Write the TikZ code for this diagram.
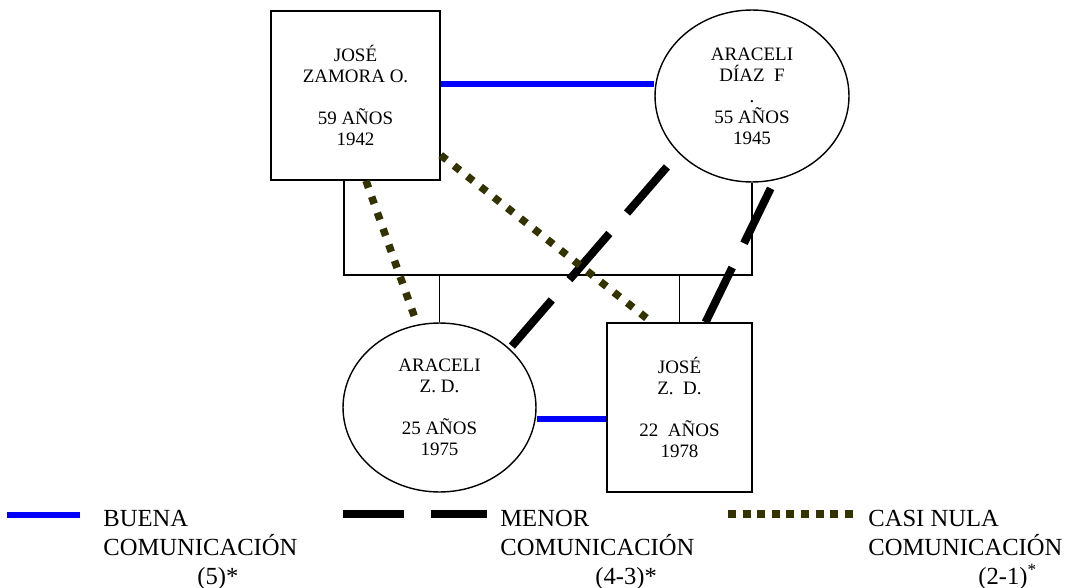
\documentclass[tikz,border=0pt]{standalone}
\usepackage{fontspec}
\setmainfont{Liberation Serif}
\usetikzlibrary{shapes.geometric}
\definecolor{oliva}{RGB}{51,51,0}

\begin{document}
\begin{tikzpicture}[x=0.02cm,y=-0.02cm,
    persona/.style={draw,line width=0.8pt,inner sep=0pt,align=center,font=\fontsize{10.8}{12}\selectfont},
    caja/.style={persona,rectangle,minimum height=3.38cm},
    elipse/.style={persona,ellipse},
    linea/.style={black,line width=0.8pt},
    buena/.style={blue,line width=0.13cm},
    menor/.style={black,line width=0.16cm,dash pattern=on 1.22cm off 0.54cm},
    nula/.style={oliva,line width=0.15cm,dash pattern=on 0.15cm off 0.19cm},
    leyenda/.style={anchor=north west,inner sep=0pt,align=left,font=\fontsize{14}{16.5}\selectfont}]
  \useasboundingbox (0,0) rectangle (1078,588);
  % padres
  \node [caja,minimum width=3.38cm] (jzo) at (355.5,95.5) {JOSÉ\\ZAMORA O.\\[12pt]59 AÑOS\\1942};
  \node [elipse,minimum width=3.88cm,minimum height=3.44cm] (ad) at (752,96) {ARACELI\\DÍAZ\ \ F\\.\\55 AÑOS\\1945};
  % hijos
  \node [elipse,minimum width=3.86cm,minimum height=3.38cm] (az) at (439.5,407.5) {ARACELI\\Z. D.\\[12pt]25 AÑOS\\1975};
  \node [caja,minimum width=2.9cm] (jz) at (679.5,407.5) {JOSÉ\\Z.\ \ D.\\[12pt]22\ \ AÑOS\\1978};
  % arbol
  \coordinate (barra) at (0,275);
  \draw [linea] ([xshift=-0.23cm]jzo.south) |- (ad.south |- barra) -- (ad.south);
  \draw [linea] (az.north) -- (az.north |- barra);
  \draw [linea] (jz.north) -- (jz.north |- barra);
  % comunicacion
  \draw [buena] ([yshift=0.23cm]jzo.east) -- ([yshift=0.23cm]jzo.east -| ad.west);
  \draw [buena] ([yshift=-0.23cm]jz.west -| az.east) -- ([yshift=-0.23cm]jz.west);
  \draw [menor,dash phase=1.4cm] (ad.218) -- (az.40);
  \draw [menor,dash phase=1.58cm] (ad.-75) -- (jz.73);
  \draw [nula] (jzo.-83) -- (az.105);
  \draw [nula] (jzo.-35) -- (jz.108);
  % leyenda
  \coordinate (b1) at (7,515);
  \coordinate (b2) at (80,515);
  \coordinate (m1) at (343,514);
  \coordinate (m2) at (487,514);
  \coordinate (n1) at (728,514);
  \coordinate (n2) at (853,514);
  \draw [buena] (b1) -- (b2);
  \draw [menor] (m1) -- (m2);
  \draw [nula,dash pattern=on 0.16cm off 0.132cm] (n1) -- (n2);
  \node [leyenda] (tbuena) at (103,510) {BUENA\\COMUNICACIÓN\\\hspace*{1.88cm}(5)*};
  \node [leyenda] (tmenor) at (500,510) {MENOR\\COMUNICACIÓN\\\hspace*{1.9cm}(4-3)*};
  \node [leyenda] (tnula) at (868,510) {CASI NULA\\COMUNICACIÓN\\\hspace*{2.2cm}(2-1)\textsuperscript{*}};
\end{tikzpicture}
\end{document}
